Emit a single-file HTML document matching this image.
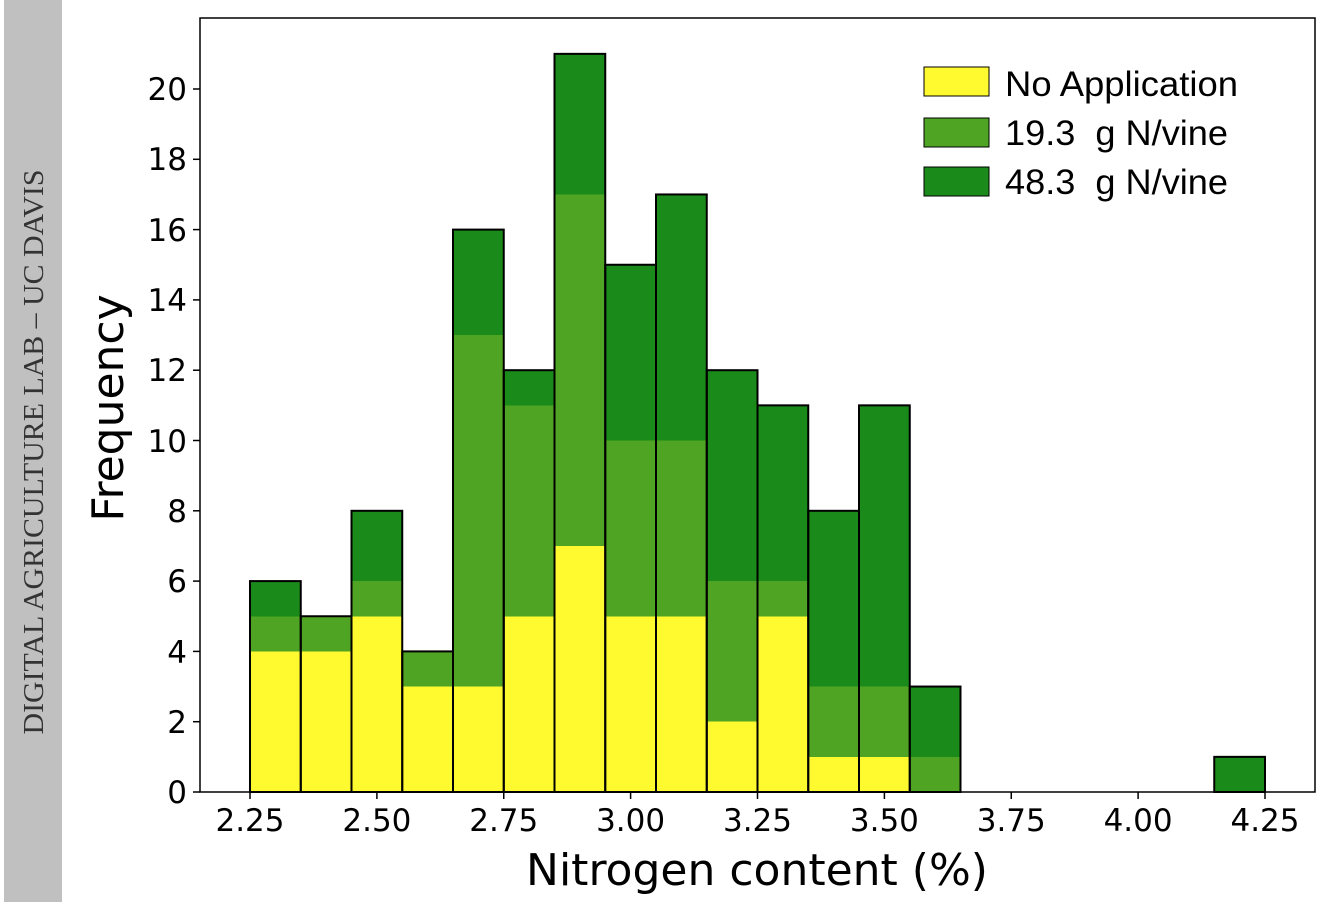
<!DOCTYPE html>
<html><head><meta charset="utf-8"><style>
html,body{margin:0;padding:0;background:#fff;}
svg{display:block;}
</style></head><body>
<svg width="1332" height="902" xmlns="http://www.w3.org/2000/svg">
<rect x="0" y="0" width="1332" height="902" fill="#fff"/>
<rect x="4" y="0" width="58" height="902" fill="#c0c0c0"/>
<text transform="translate(43,452) rotate(-90)" text-anchor="middle" font-family="Liberation Serif, serif" font-size="28" fill="#333" textLength="565" lengthAdjust="spacingAndGlyphs">DIGITAL AGRICULTURE LAB – UC DAVIS</text>

<g shape-rendering="crispEdges">
<rect x="250" y="651.4" width="50.75" height="140.6" fill="#fff930"/><rect x="250" y="616.25" width="50.75" height="35.15" fill="#50a423"/><rect x="250" y="581.1" width="50.75" height="35.15" fill="#1a8a1a"/>
<rect x="300.75" y="651.4" width="50.75" height="140.6" fill="#fff930"/><rect x="300.75" y="616.25" width="50.75" height="35.15" fill="#50a423"/>
<rect x="351.5" y="616.25" width="50.75" height="175.75" fill="#fff930"/><rect x="351.5" y="581.1" width="50.75" height="35.15" fill="#50a423"/><rect x="351.5" y="510.8" width="50.75" height="70.3" fill="#1a8a1a"/>
<rect x="402.25" y="686.55" width="50.75" height="105.45" fill="#fff930"/><rect x="402.25" y="651.4" width="50.75" height="35.15" fill="#50a423"/>
<rect x="453" y="686.55" width="50.75" height="105.45" fill="#fff930"/><rect x="453" y="335.05" width="50.75" height="351.5" fill="#50a423"/><rect x="453" y="229.6" width="50.75" height="105.45" fill="#1a8a1a"/>
<rect x="503.75" y="616.25" width="50.75" height="175.75" fill="#fff930"/><rect x="503.75" y="405.35" width="50.75" height="210.9" fill="#50a423"/><rect x="503.75" y="370.2" width="50.75" height="35.15" fill="#1a8a1a"/>
<rect x="554.5" y="545.95" width="50.75" height="246.05" fill="#fff930"/><rect x="554.5" y="194.45" width="50.75" height="351.5" fill="#50a423"/><rect x="554.5" y="53.85" width="50.75" height="140.6" fill="#1a8a1a"/>
<rect x="605.25" y="616.25" width="50.75" height="175.75" fill="#fff930"/><rect x="605.25" y="440.5" width="50.75" height="175.75" fill="#50a423"/><rect x="605.25" y="264.75" width="50.75" height="175.75" fill="#1a8a1a"/>
<rect x="656" y="616.25" width="50.75" height="175.75" fill="#fff930"/><rect x="656" y="440.5" width="50.75" height="175.75" fill="#50a423"/><rect x="656" y="194.45" width="50.75" height="246.05" fill="#1a8a1a"/>
<rect x="706.75" y="721.7" width="50.75" height="70.3" fill="#fff930"/><rect x="706.75" y="581.1" width="50.75" height="140.6" fill="#50a423"/><rect x="706.75" y="370.2" width="50.75" height="210.9" fill="#1a8a1a"/>
<rect x="757.5" y="616.25" width="50.75" height="175.75" fill="#fff930"/><rect x="757.5" y="581.1" width="50.75" height="35.15" fill="#50a423"/><rect x="757.5" y="405.35" width="50.75" height="175.75" fill="#1a8a1a"/>
<rect x="808.25" y="756.85" width="50.75" height="35.15" fill="#fff930"/><rect x="808.25" y="686.55" width="50.75" height="70.3" fill="#50a423"/><rect x="808.25" y="510.8" width="50.75" height="175.75" fill="#1a8a1a"/>
<rect x="859" y="756.85" width="50.75" height="35.15" fill="#fff930"/><rect x="859" y="686.55" width="50.75" height="70.3" fill="#50a423"/><rect x="859" y="405.35" width="50.75" height="281.2" fill="#1a8a1a"/>
<rect x="909.75" y="756.85" width="50.75" height="35.15" fill="#50a423"/><rect x="909.75" y="686.55" width="50.75" height="70.3" fill="#1a8a1a"/>
<rect x="1214.25" y="756.85" width="50.75" height="35.15" fill="#1a8a1a"/>
</g>
<g fill="none" stroke="#000" stroke-width="2">
<rect x="250" y="581.1" width="50.75" height="210.9"/>
<rect x="300.75" y="616.25" width="50.75" height="175.75"/>
<rect x="351.5" y="510.8" width="50.75" height="281.2"/>
<rect x="402.25" y="651.4" width="50.75" height="140.6"/>
<rect x="453" y="229.6" width="50.75" height="562.4"/>
<rect x="503.75" y="370.2" width="50.75" height="421.8"/>
<rect x="554.5" y="53.85" width="50.75" height="738.15"/>
<rect x="605.25" y="264.75" width="50.75" height="527.25"/>
<rect x="656" y="194.45" width="50.75" height="597.55"/>
<rect x="706.75" y="370.2" width="50.75" height="421.8"/>
<rect x="757.5" y="405.35" width="50.75" height="386.65"/>
<rect x="808.25" y="510.8" width="50.75" height="281.2"/>
<rect x="859" y="405.35" width="50.75" height="386.65"/>
<rect x="909.75" y="686.55" width="50.75" height="105.45"/>
<rect x="1214.25" y="756.85" width="50.75" height="35.15"/>
</g>

<rect x="200" y="18" width="1115" height="774" fill="none" stroke="#000" stroke-width="1.5"/>

<g stroke="#000" stroke-width="1.5">
<line x1="193" x2="200" y1="792" y2="792"/><line x1="193" x2="200" y1="721.7" y2="721.7"/><line x1="193" x2="200" y1="651.4" y2="651.4"/><line x1="193" x2="200" y1="581.1" y2="581.1"/><line x1="193" x2="200" y1="510.8" y2="510.8"/><line x1="193" x2="200" y1="440.5" y2="440.5"/><line x1="193" x2="200" y1="370.2" y2="370.2"/><line x1="193" x2="200" y1="299.9" y2="299.9"/><line x1="193" x2="200" y1="229.6" y2="229.6"/><line x1="193" x2="200" y1="159.3" y2="159.3"/><line x1="193" x2="200" y1="89" y2="89"/>
<line y1="792" y2="799" x1="250" x2="250"/><line y1="792" y2="799" x1="376.9" x2="376.9"/><line y1="792" y2="799" x1="503.75" x2="503.75"/><line y1="792" y2="799" x1="630.6" x2="630.6"/><line y1="792" y2="799" x1="757.5" x2="757.5"/><line y1="792" y2="799" x1="884.4" x2="884.4"/><line y1="792" y2="799" x1="1011.25" x2="1011.25"/><line y1="792" y2="799" x1="1138.1" x2="1138.1"/><line y1="792" y2="799" x1="1265" x2="1265"/>
</g>
<g font-family="DejaVu Sans, sans-serif" font-size="31" fill="#000" text-anchor="end">
<text x="187" y="803">0</text><text x="187" y="733">2</text><text x="187" y="663">4</text><text x="187" y="592">6</text><text x="187" y="522">8</text><text x="187" y="452">10</text><text x="187" y="381">12</text><text x="187" y="311">14</text><text x="187" y="241">16</text><text x="187" y="170">18</text><text x="187" y="100">20</text>
</g>
<g font-family="DejaVu Sans, sans-serif" font-size="31" fill="#000" text-anchor="middle">
<text x="250" y="831">2.25</text><text x="376.9" y="831">2.50</text><text x="503.75" y="831">2.75</text><text x="630.6" y="831">3.00</text><text x="757.5" y="831">3.25</text><text x="884.4" y="831">3.50</text><text x="1011.25" y="831">3.75</text><text x="1138.1" y="831">4.00</text><text x="1265" y="831">4.25</text>
</g>
<text x="757" y="885" text-anchor="middle" font-family="DejaVu Sans, sans-serif" font-size="44" fill="#000">Nitrogen content (%)</text>
<text transform="translate(123,408) rotate(-90)" text-anchor="middle" font-family="DejaVu Sans, sans-serif" font-size="44" fill="#000">Frequency</text>

<rect x="924" y="67" width="65" height="29" fill="#fff930" stroke="#000" stroke-width="1"/>
<rect x="924" y="118" width="65" height="29" fill="#50a423" stroke="#000" stroke-width="1"/>
<rect x="924" y="167" width="65" height="29" fill="#1a8a1a" stroke="#000" stroke-width="1"/>
<g font-family="Liberation Sans, sans-serif" font-size="35" fill="#000">
<text x="1005" y="96" textLength="233" lengthAdjust="spacingAndGlyphs">No Application</text>
<text x="1005" y="145" xml:space="preserve" textLength="223" lengthAdjust="spacingAndGlyphs">19.3  g N/vine</text>
<text x="1005" y="194" xml:space="preserve" textLength="223" lengthAdjust="spacingAndGlyphs">48.3  g N/vine</text>
</g>
</svg>
</body></html>
